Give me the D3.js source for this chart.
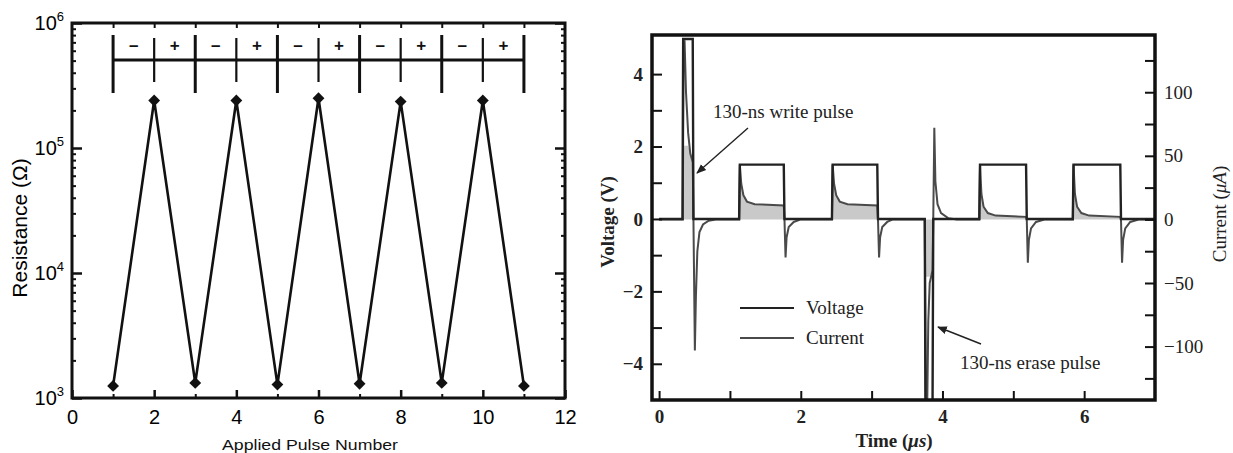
<!DOCTYPE html>
<html>
<head>
<meta charset="utf-8">
<script src="https://cdn.jsdelivr.net/npm/d3@7"></script>
<style>
  body { margin: 0; background: #fff; }
  svg { display: block; }
</style>
</head>
<body>
<svg id="chart" width="1233" height="453"></svg>
<script>
// ---- left panel data: resistance after each applied pulse
const pulseNumbers = [1, 2, 3, 4, 5, 6, 7, 8, 9, 10, 11];
const resistance = [1250, 240000, 1320, 240000, 1280, 250000, 1300, 235000, 1320, 240000, 1250];
const polaritySigns = ["\u2013", "+", "\u2013", "+", "\u2013", "+", "\u2013", "+", "\u2013", "+"];
const pulseTicks = [0, 2, 4, 6, 8, 10, 12];
const resistanceDecades = [1e3, 1e4, 1e5, 1e6];

// ---- right panel data: [time (us), value]
const voltagePts = [
  [0, 0], [0.33, 0], [0.34, 4.97], [0.475, 4.97], [0.485, 0],
  [1.13, 0], [1.14, 1.5], [1.76, 1.5], [1.77, 0],
  [2.44, 0], [2.45, 1.5], [3.08, 1.5], [3.09, 0],
  [3.75, 0], [3.76, -5.1], [3.86, -5.1], [3.87, 0],
  [4.52, 0], [4.53, 1.5], [5.18, 1.5], [5.19, 0],
  [5.84, 0], [5.85, 1.5], [6.51, 1.5], [6.52, 0], [7.1, 0]
];
const currentPts = [
  [0, 0], [0.335, 0], [0.345, 140], [0.36, 140], [0.38, 100], [0.41, 68], [0.44, 52], [0.475, 45], [0.485, 0],
  [0.505, -103], [0.52, -60], [0.54, -25], [0.57, -10], [0.62, -4], [0.7, -1], [0.8, 0],
  [1.13, 0], [1.14, 43], [1.16, 28], [1.19, 19], [1.24, 14], [1.35, 12], [1.76, 11], [1.77, 0],
  [1.785, -30], [1.80, -14], [1.83, -6], [1.9, -2], [2.0, 0],
  [2.44, 0], [2.45, 43], [2.47, 28], [2.50, 19], [2.55, 14], [2.66, 12], [3.08, 11], [3.09, 0],
  [3.105, -30], [3.12, -14], [3.15, -6], [3.22, -2], [3.3, 0],
  [3.75, 0], [3.765, -145], [3.785, -145], [3.80, -80], [3.82, -50], [3.86, -40], [3.87, 0],
  [3.885, 72], [3.9, 30], [3.93, 12], [3.98, 5], [4.08, 1], [4.2, 0],
  [4.52, 0], [4.53, 43], [4.55, 20], [4.58, 10], [4.64, 5], [4.75, 3], [5.18, 2], [5.19, 0],
  [5.205, -34], [5.22, -16], [5.25, -7], [5.32, -2], [5.45, 0],
  [5.84, 0], [5.85, 43], [5.87, 20], [5.9, 10], [5.96, 5], [6.07, 3], [6.51, 2], [6.52, 0],
  [6.535, -34], [6.55, -16], [6.58, -7], [6.65, -2], [6.78, 0], [7.1, 0]
];
// pulse windows that get the grey charge shading: [start, end, cap (uA)]
const shadeWindows = [
  [0.34, 0.485, 58], [1.13, 1.77, 45], [2.44, 3.09, 45],
  [3.765, 3.87, -45], [4.52, 5.19, 45], [5.84, 6.52, 45]
];
const timeTicks = [0, 1, 2, 3, 4, 5, 6];
const voltageTicks = [-4, -3, -2, -1, 0, 1, 2, 3, 4];
const currentTicks = [-125, -100, -75, -50, -25, 0, 25, 50, 75, 100, 125];

const svg = d3.select("#chart");
svg.append("rect").attr("width", 1233).attr("height", 453).attr("fill", "#fff");

// ================= LEFT PANEL =================
const L = {left: 72, right: 565, top: 23, bottom: 398};
const xPulse = d3.scaleLinear().domain([0, 12]).range([L.left, L.right]);
const yRes = d3.scaleLog().domain([1e3, 1e6]).range([L.bottom, L.top]);

const left = svg.append("g");

// minor log ticks
const minorRes = [];
resistanceDecades.slice(0, 3).forEach(d => {
  for (let k = 2; k <= 9; k++) minorRes.push(d * k);
});

function styleAxis(sel, w) {
  sel.select(".domain").remove();
  sel.selectAll(".tick line").attr("stroke", "#111").attr("stroke-width", w);
}

left.append("g").attr("transform", `translate(${L.left},0)`)
  .call(d3.axisLeft(yRes).tickValues(resistanceDecades).tickSize(-10).tickFormat(""))
  .call(styleAxis, 2.5);
left.append("g").attr("transform", `translate(${L.left},0)`)
  .call(d3.axisLeft(yRes).tickValues(minorRes).tickSize(-4).tickFormat(""))
  .call(styleAxis, 2);
left.append("g").attr("transform", `translate(${L.right},0)`)
  .call(d3.axisRight(yRes).tickValues(resistanceDecades).tickSize(-10).tickFormat(""))
  .call(styleAxis, 2.5);
left.append("g").attr("transform", `translate(${L.right},0)`)
  .call(d3.axisRight(yRes).tickValues(minorRes).tickSize(-4).tickFormat(""))
  .call(styleAxis, 2);

// bottom / top ticks
left.append("g").attr("transform", `translate(0,${L.bottom})`)
  .call(d3.axisBottom(xPulse).tickValues(pulseTicks).tickSize(-8).tickPadding(12))
  .call(styleAxis, 2.5)
  .call(g => g.selectAll("text")
    .attr("font-family", "Liberation Sans, Arial, sans-serif")
    .attr("font-size", 20).attr("fill", "#000"));
left.append("g").attr("transform", `translate(0,${L.bottom})`)
  .call(d3.axisBottom(xPulse).tickValues(pulseNumbers.filter(d => d % 2)).tickSize(-4).tickFormat(""))
  .call(styleAxis, 2);
left.append("g").attr("transform", `translate(0,${L.top})`)
  .call(d3.axisTop(xPulse).tickValues(d3.range(1, 12)).tickSize(-5).tickFormat(""))
  .call(styleAxis, 2);

// frame
left.append("rect")
  .attr("x", L.left).attr("y", L.top)
  .attr("width", L.right - L.left).attr("height", L.bottom - L.top)
  .attr("fill", "none").attr("stroke", "#111").attr("stroke-width", 3);

// decade labels 10^n
resistanceDecades.forEach(d => {
  const t = left.append("text")
    .attr("x", L.left - 8).attr("y", yRes(d) + 7)
    .attr("text-anchor", "end")
    .attr("font-family", "Liberation Sans, Arial, sans-serif")
    .attr("font-size", 20).attr("fill", "#000");
  t.append("tspan").text("10");
  t.append("tspan").attr("dy", -9).attr("font-size", 13).text(Math.round(Math.log10(d)));
});

// polarity bracket
const bracketY = 60;
left.append("line")
  .attr("x1", xPulse(1)).attr("x2", xPulse(11))
  .attr("y1", bracketY).attr("y2", bracketY)
  .attr("stroke", "#111").attr("stroke-width", 3);
left.selectAll("line.sep")
  .data(pulseNumbers)
  .join("line")
  .attr("class", "sep")
  .attr("x1", d => xPulse(d)).attr("x2", d => xPulse(d))
  .attr("y1", d => d % 2 ? 35 : 38)
  .attr("y2", d => d % 2 ? 93 : 82)
  .attr("stroke", "#111")
  .attr("stroke-width", d => d % 2 ? 3 : 2.2);
left.selectAll("text.sign")
  .data(polaritySigns)
  .join("text")
  .attr("class", "sign")
  .attr("x", (d, i) => xPulse(i + 1.5))
  .attr("y", 51)
  .attr("text-anchor", "middle")
  .attr("font-family", "Liberation Sans, Arial, sans-serif")
  .attr("font-weight", "bold")
  .attr("font-size", 17)
  .attr("fill", "#111")
  .text(d => d);

// data line and diamonds
const resLine = d3.line()
  .x((d, i) => xPulse(pulseNumbers[i]))
  .y(d => yRes(d));
left.append("path")
  .datum(resistance)
  .attr("d", resLine)
  .attr("fill", "none")
  .attr("stroke", "#111")
  .attr("stroke-width", 2.6)
  .attr("stroke-linejoin", "miter");
left.selectAll("path.marker")
  .data(resistance)
  .join("path")
  .attr("class", "marker")
  .attr("d", d3.symbol(d3.symbolSquare, 70))
  .attr("transform", (d, i) => `translate(${xPulse(pulseNumbers[i])},${yRes(d)}) rotate(45)`)
  .attr("fill", "#111");

// axis titles
left.append("text")
  .attr("transform", "translate(27,228) rotate(-90)")
  .attr("text-anchor", "middle")
  .attr("font-family", "Liberation Sans, Arial, sans-serif")
  .attr("font-size", 21)
  .attr("fill", "#000")
  .text("Resistance (\u03A9)");
left.append("text")
  .attr("x", 310).attr("y", 450)
  .attr("text-anchor", "middle")
  .attr("font-family", "Liberation Sans Narrow, Arial Narrow, sans-serif")
  .attr("font-size", 15)
  .attr("textLength", 176)
  .attr("lengthAdjust", "spacingAndGlyphs")
  .attr("fill", "#111")
  .text("Applied Pulse Number");

// ================= RIGHT PANEL =================
const R = {left: 652, right: 1155, top: 35, bottom: 400};
const xTime = d3.scaleLinear().domain([-0.1, 7]).range([R.left, R.right]);
const yVolt = d3.scaleLinear().domain([-5, 5.08]).range([R.bottom, R.top]);
const yCur = d3.scaleLinear().domain([-142, 145]).range([R.bottom, R.top]);

const right = svg.append("g");
const serif = "Liberation Serif, Times New Roman, serif";

right.append("clipPath").attr("id", "plotClip")
  .append("rect")
  .attr("x", R.left).attr("y", R.top)
  .attr("width", R.right - R.left).attr("height", R.bottom - R.top);

const plot = right.append("g").attr("clip-path", "url(#plotClip)");

// shaded charge under current during pulses
const shadeArea = d3.area()
  .x(d => xTime(d[0]))
  .y0(yCur(0))
  .y1(d => yCur(d[1]));
shadeWindows.forEach(([t0, t1, cap]) => {
  const pts = currentPts
    .filter(p => p[0] >= t0 && p[0] <= t1)
    .map(p => [p[0], cap > 0 ? Math.max(0, Math.min(p[1], cap)) : Math.min(0, Math.max(p[1], cap))]);
  plot.append("path")
    .datum(pts)
    .attr("d", shadeArea)
    .attr("fill", "#c9c9c9");
});

const voltLine = d3.line().x(d => xTime(d[0])).y(d => yVolt(d[1]));
const curLine = d3.line().x(d => xTime(d[0])).y(d => yCur(d[1]));

plot.append("path")
  .datum(currentPts)
  .attr("d", curLine)
  .attr("fill", "none")
  .attr("stroke", "#4a4a4a")
  .attr("stroke-width", 2);
plot.append("path")
  .datum(voltagePts)
  .attr("d", voltLine)
  .attr("fill", "none")
  .attr("stroke", "#222")
  .attr("stroke-width", 2.4);

// axes
right.append("g").attr("transform", `translate(${R.left},0)`)
  .call(d3.axisLeft(yVolt).tickValues(voltageTicks).tickSize(-10).tickPadding(9)
    .tickFormat(d => d % 2 === 0 ? d3.format("d")(d) : ""))
  .call(styleAxis, 2)
  .call(g => g.selectAll("text")
    .attr("font-family", serif).attr("font-weight", "bold")
    .attr("font-size", 19).attr("fill", "#222"));
right.append("g").attr("transform", `translate(${R.right},0)`)
  .call(d3.axisRight(yCur).tickValues(currentTicks).tickSize(-10).tickPadding(9)
    .tickFormat(d => d % 50 === 0 ? d3.format("d")(d) : ""))
  .call(styleAxis, 2)
  .call(g => g.selectAll("text")
    .attr("font-family", serif)
    .attr("font-size", 19).attr("fill", "#222"));
right.append("g").attr("transform", `translate(0,${R.bottom})`)
  .call(d3.axisBottom(xTime).tickValues(timeTicks).tickSize(-9).tickPadding(10)
    .tickFormat(d => d % 2 === 0 ? d3.format("d")(d) : ""))
  .call(styleAxis, 2)
  .call(g => g.selectAll("text")
    .attr("font-family", serif).attr("font-weight", "bold")
    .attr("font-size", 19).attr("fill", "#222"));

right.append("rect")
  .attr("x", R.left).attr("y", R.top)
  .attr("width", R.right - R.left).attr("height", R.bottom - R.top)
  .attr("fill", "none").attr("stroke", "#111").attr("stroke-width", 3.5);

// legend
const legend = right.append("g").attr("transform", "translate(740,308)");
[["Voltage", "#222"], ["Current", "#4a4a4a"]].forEach(([name, col], i) => {
  legend.append("line")
    .attr("x1", 0).attr("x2", 54)
    .attr("y1", i * 30).attr("y2", i * 30)
    .attr("stroke", col).attr("stroke-width", 2.2);
  legend.append("text")
    .attr("x", 66).attr("y", i * 30 + 6)
    .attr("font-family", serif)
    .attr("font-size", 19)
    .attr("fill", "#222")
    .text(name);
});

// annotations
svg.append("defs").append("marker")
  .attr("id", "arrowhead")
  .attr("viewBox", "0 0 10 10")
  .attr("refX", 9).attr("refY", 5)
  .attr("markerWidth", 7).attr("markerHeight", 7)
  .attr("orient", "auto")
  .append("path")
  .attr("d", "M0,1 L10,5 L0,9 Z")
  .attr("fill", "#222");

right.append("text")
  .attr("x", 713).attr("y", 118)
  .attr("font-family", serif).attr("font-size", 19).attr("fill", "#222")
  .text("130-ns write pulse");
right.append("line")
  .attr("x1", 748).attr("y1", 128).attr("x2", 697).attr("y2", 173)
  .attr("stroke", "#222").attr("stroke-width", 1.4)
  .attr("marker-end", "url(#arrowhead)");

right.append("text")
  .attr("x", 960).attr("y", 369)
  .attr("font-family", serif).attr("font-size", 19).attr("fill", "#222")
  .text("130-ns erase pulse");
right.append("line")
  .attr("x1", 981).attr("y1", 344).attr("x2", 938).attr("y2", 327)
  .attr("stroke", "#222").attr("stroke-width", 1.4)
  .attr("marker-end", "url(#arrowhead)");

// axis titles
right.append("text")
  .attr("transform", "translate(614,222) rotate(-90)")
  .attr("text-anchor", "middle")
  .attr("font-family", serif).attr("font-weight", "bold")
  .attr("font-size", 19).attr("fill", "#222")
  .text("Voltage (V)");

const iTitle = right.append("text")
  .attr("transform", "translate(1226,214) rotate(-90)")
  .attr("text-anchor", "middle")
  .attr("font-family", serif)
  .attr("font-size", 19).attr("fill", "#222");
iTitle.append("tspan").text("Current (");
iTitle.append("tspan").attr("font-style", "italic").text("\u03BCA");
iTitle.append("tspan").text(")");

const tTitle = right.append("text")
  .attr("x", 894).attr("y", 447)
  .attr("text-anchor", "middle")
  .attr("font-family", serif).attr("font-weight", "bold")
  .attr("font-size", 19).attr("fill", "#222");
tTitle.append("tspan").text("Time (");
tTitle.append("tspan").attr("font-style", "italic").text("\u03BCs");
tTitle.append("tspan").text(")");
</script>
</body>
</html>
